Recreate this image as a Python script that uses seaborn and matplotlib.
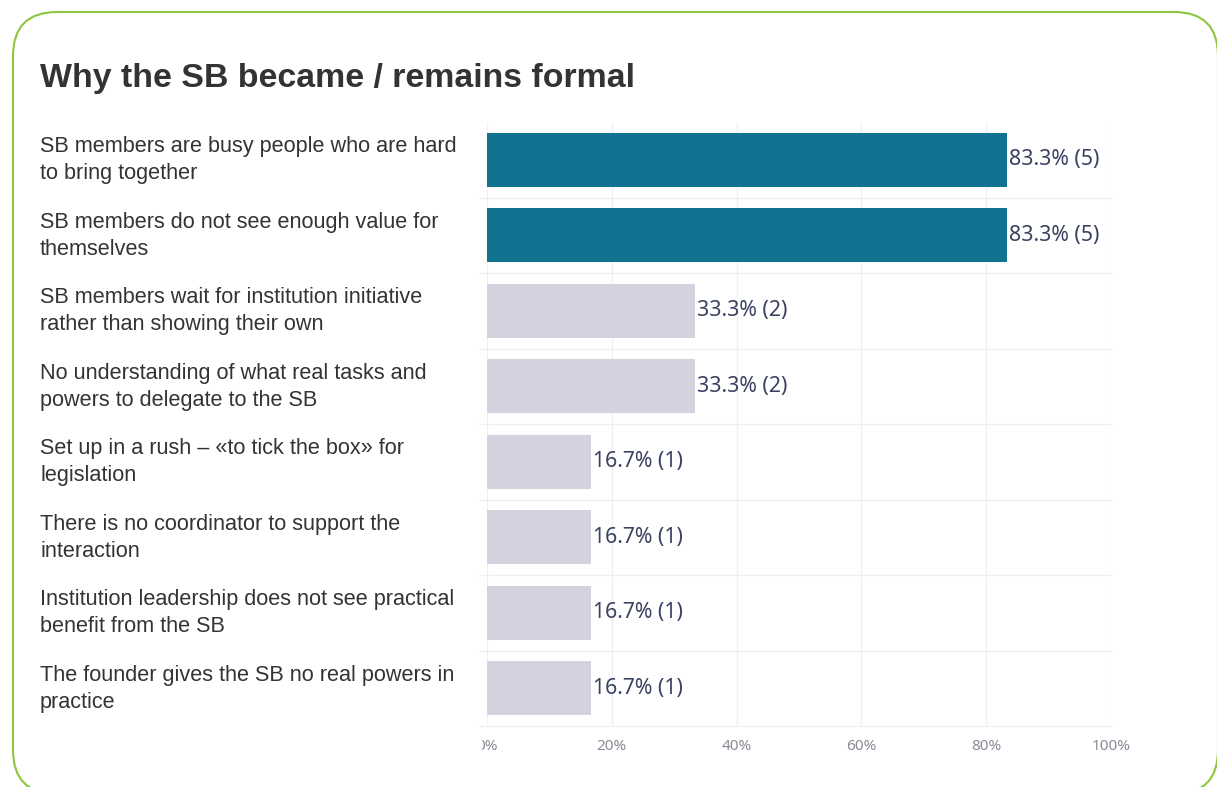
import matplotlib
matplotlib.use("Agg")
import matplotlib.pyplot as plt
import seaborn as sns
import pandas as pd
from matplotlib.patches import FancyBboxPatch
from matplotlib.transforms import IdentityTransform, Bbox, ScaledTranslation

# Survey answers (multiple choice), share of respondents and raw counts
categories = [
    "SB members are busy people who are hard\nto bring together",
    "SB members do not see enough value for\nthemselves",
    "SB members wait for institution initiative\nrather than showing their own",
    "No understanding of what real tasks and\npowers to delegate to the SB",
    "Set up in a rush – «to tick the box» for\nlegislation",
    "There is no coordinator to support the\ninteraction",
    "Institution leadership does not see practical\nbenefit from the SB",
    "The founder gives the SB no real powers in\npractice",
]
shares = [83.3, 83.3, 33.3, 33.3, 16.7, 16.7, 16.7, 16.7]
counts = [5, 5, 2, 2, 1, 1, 1, 1]
x_ticks = [0, 20, 40, 60, 80, 100]
x_tick_labels = ["0%", "20%", "40%", "60%", "80%", "100%"]
title = "Why the SB became / remains formal"

TEAL = "#13728f"
GREY = "#d3d2de"
GRID = "#f0f0f3"
FRAME = "#8dc63f"

sns.set_theme(style="white")
plt.rcParams["font.family"] = ["Liberation Sans", "DejaVu Sans"]

W, H = 1217, 787
fig = plt.figure(figsize=(W / 100, H / 100), dpi=100)
fig.patch.set_facecolor("white")

# rounded card outline
frame = FancyBboxPatch((13, -7), 1205, 782,
                       boxstyle="round,pad=0,rounding_size=44",
                       transform=IdentityTransform(), fill=False,
                       edgecolor=FRAME, linewidth=1.5)
fig.patches.append(frame)

fig.text(40 / W, 1 - 78 / H, title, fontsize=24.4, fontweight="bold",
         color="#333333", va="center", ha="left")

ax = fig.add_axes([487 / W, 1 - 726 / H, 624 / W, 604 / H])

df = pd.DataFrame({"reason": categories, "share": shares, "count": counts})
df["top"] = df["share"] == df["share"].max()

sns.barplot(data=df, x="share", y="reason", hue="top",
            palette={True: TEAL, False: GREY}, orient="h", width=0.72,
            dodge=False, legend=False, saturation=1, ax=ax,
            edgecolor="none")

n = len(categories)
ax.set_xlim(0, 100)
ax.set_ylim(n - 0.5, -0.5)
ax.set_xlabel("")
ax.set_ylabel("")
for s in ax.spines.values():
    s.set_visible(False)

ax.set_axisbelow(True)
ax.set_xticks(x_ticks)
ax.set_xticklabels(x_tick_labels, family=["Noto Sans", "DejaVu Sans"])
ax.xaxis.grid(True, color=GRID, linewidth=1)
ax.yaxis.grid(False)
for i in range(n):
    ax.axhline(i + 0.5, xmin=-0.013, xmax=1, color=GRID, linewidth=1,
               clip_on=False, zorder=0)

ax.tick_params(axis="x", length=0, pad=9, labelsize=11, labelcolor="#8a8b96")
ax.set_yticks(range(n))
ax.set_yticklabels(categories, ha="left", fontsize=15.6, color="#333333",
                   linespacing=1.38)
ax.tick_params(axis="y", length=0, pad=(487 - 40) * 0.72)
lift = ScaledTranslation(0, 5 / 100, fig.dpi_scale_trans)
for lab in ax.get_yticklabels():
    lab.set_transform(lab.get_transform() + lift)

for i, (s, c) in enumerate(zip(shares, counts)):
    ax.annotate(f"{s:.1f}% ({c})", xy=(s, i), xytext=(1.5, 0),
                textcoords="offset points", va="center", ha="left",
                fontsize=15.3, color="#3b4261",
                family=["Noto Sans", "DejaVu Sans"])

# the first tick label is cut at the plot's left edge
first = ax.get_xticklabels()[0]
first.set_clip_box(Bbox([[482, 0], [W, H]]))
first.set_clip_on(True)

fig.savefig("out.png", dpi=100)
